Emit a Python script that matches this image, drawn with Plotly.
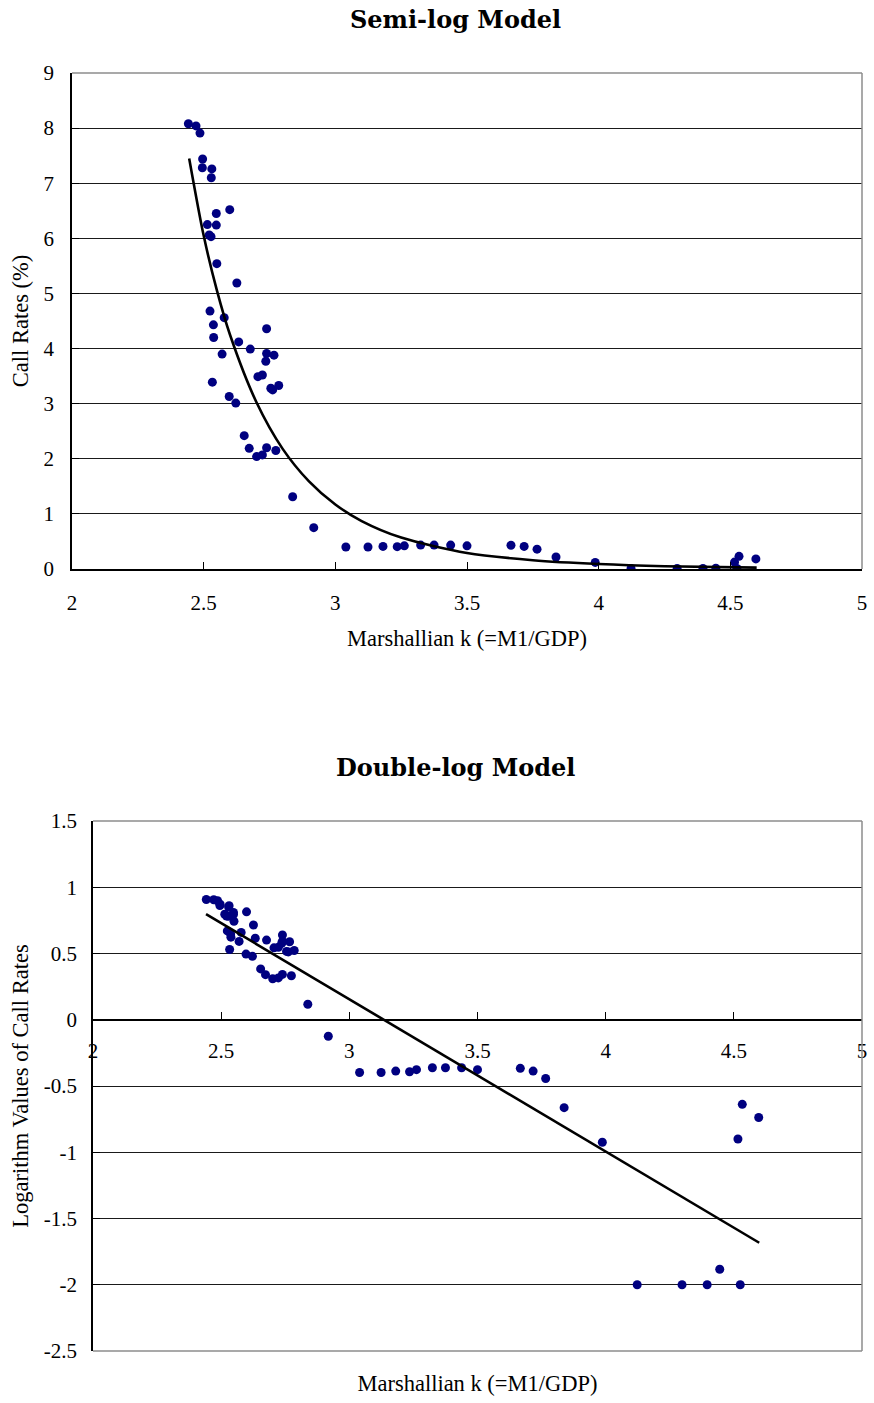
import numpy as np
import plotly.graph_objects as go

# ---------------- data ----------------
marshallian_k = [2.442, 2.471, 2.486, 2.496, 2.495, 2.531, 2.529, 2.599, 2.548, 2.514,
                 2.548, 2.521, 2.528, 2.550, 2.626, 2.524, 2.578, 2.537, 2.739, 2.538,
                 2.633, 2.677, 2.739, 2.767, 2.570, 2.736, 2.706, 2.723, 2.533, 2.755,
                 2.762, 2.785, 2.597, 2.622, 2.654, 2.673, 2.739, 2.774, 2.701, 2.723,
                 2.838, 2.918, 3.040, 3.124, 3.181, 3.235, 3.262, 3.324, 3.375, 3.438,
                 3.500, 3.667, 3.717, 3.766, 3.838, 3.987, 4.123, 4.298, 4.396, 4.445,
                 4.525, 4.516, 4.533, 4.597]
call_rates = [8.08, 8.04, 7.91, 7.44, 7.28, 7.26, 7.10, 6.52, 6.45, 6.25,
              6.24, 6.06, 6.03, 5.54, 5.19, 4.68, 4.56, 4.43, 4.36, 4.20,
              4.12, 3.99, 3.91, 3.88, 3.90, 3.77, 3.49, 3.52, 3.39, 3.28,
              3.25, 3.33, 3.13, 3.01, 2.42, 2.19, 2.20, 2.15, 2.04, 2.07,
              1.31, 0.75, 0.40, 0.40, 0.41, 0.405, 0.42, 0.434, 0.434, 0.434,
              0.42, 0.43, 0.41, 0.36, 0.217, 0.119, 0.01, 0.01, 0.01, 0.0131,
              0.01, 0.126, 0.23, 0.183]
log_call_rates = np.log10(call_rates)

# semi-log model curve
semilog_curve_k = [2.445, 2.5, 2.55, 2.6, 2.7, 2.8, 2.9, 3.0, 3.1, 3.25, 3.5, 3.75, 4.0, 4.25, 4.6]
semilog_curve_r = [7.45, 6.05, 5.06, 4.25, 3.03, 2.18, 1.59, 1.17, 0.87, 0.57, 0.29, 0.16, 0.09, 0.05, 0.025]

# double-log model fitted line (end points)
doublelog_line_k = [2.441, 4.599]
doublelog_line_v = [0.797, -1.683]

x_ticks = [2, 2.5, 3, 3.5, 4, 4.5, 5]
x_tick_text = ["2", "2.5", "3", "3.5", "4", "4.5", "5"]
top_y_ticks = [0, 1, 2, 3, 4, 5, 6, 7, 8, 9]
bot_y_ticks = [-2.5, -2, -1.5, -1, -0.5, 0, 0.5, 1, 1.5]
bot_y_tick_text = ["-2.5", "-2", "-1.5", "-1", "-0.5", "0", "0.5", "1", "1.5"]

# ---------------- layout geometry ----------------
W, H = 874, 1403
top_px = dict(l=72, r=862, t=73, b=569)
bot_px = dict(l=93, r=862, t=821, b=1351)

def xdom(p):
    return [p["l"] / W, p["r"] / W]

def ydom(p):
    return [1 - p["b"] / H, 1 - p["t"] / H]

bot_yrange = [-2.5, 1.5]
bd = ydom(bot_px)
zero_pos = bd[0] + (0 - bot_yrange[0]) / (bot_yrange[1] - bot_yrange[0]) * (bd[1] - bd[0])

NAVY = "#000080"
tick_font = dict(family="Liberation Serif, Times New Roman, serif", size=21, color="black")
title_font = dict(family="Liberation Serif, Times New Roman, serif", size=22.5, color="black")
head_font = dict(family="DejaVu Serif, serif", size=24, color="black")

fig = go.Figure()

# top chart
fig.add_trace(go.Scatter(x=marshallian_k, y=call_rates, mode="markers",
                         marker=dict(color=NAVY, size=9), xaxis="x", yaxis="y"))
fig.add_trace(go.Scatter(x=semilog_curve_k, y=semilog_curve_r, mode="lines",
                         line=dict(color="black", width=2.6, shape="spline", smoothing=0.8),
                         xaxis="x", yaxis="y"))

# bottom chart
fig.add_trace(go.Scatter(x=marshallian_k, y=log_call_rates, mode="markers",
                         marker=dict(color=NAVY, size=9), xaxis="x2", yaxis="y2"))
fig.add_trace(go.Scatter(x=doublelog_line_k, y=doublelog_line_v, mode="lines",
                         line=dict(color="black", width=2.6), xaxis="x2", yaxis="y2"))
# empty trace so the title-carrying overlay axis is drawn
fig.add_trace(go.Scatter(x=[], y=[], mode="markers", xaxis="x3", yaxis="y2",
                         hoverinfo="skip"))

fig.update_layout(
    width=W, height=H,
    autosize=False,
    margin=dict(l=0, r=0, t=0, b=0, pad=0, autoexpand=False),
    paper_bgcolor="white", plot_bgcolor="white",
    showlegend=False,
    xaxis=dict(domain=xdom(top_px), anchor="y", range=[2, 5], automargin=False,
               tickvals=x_ticks, ticktext=x_tick_text, ticks="inside", ticklen=7,
               tickcolor="black", showline=True, linecolor="black", linewidth=1.5,
               showgrid=False, zeroline=False, tickfont=tick_font, ticklabelstandoff=14,
               title=dict(text="Marshallian k (=M1/GDP)", font=title_font, standoff=16)),
    yaxis=dict(domain=ydom(top_px), anchor="x", range=[0, 9], automargin=False,
               tickvals=top_y_ticks, ticks="inside", ticklen=7, tickcolor="black",
               showline=True, linecolor="black", linewidth=1.5,
               showgrid=True, gridcolor="#1a1a1a", gridwidth=1, zeroline=False,
               tickfont=tick_font, ticklabelstandoff=12,
               title=dict(text="Call Rates (%)", font=title_font, standoff=9)),
    xaxis2=dict(domain=xdom(bot_px), anchor="free", position=zero_pos, range=[2, 5],
                automargin=False,
                tickvals=x_ticks, ticktext=x_tick_text, ticks="inside", ticklen=7,
                tickcolor="black", showline=True, linecolor="black", linewidth=1.5,
                showgrid=False, zeroline=False, tickfont=tick_font, ticklabelstandoff=12),
    xaxis3=dict(overlaying="x2", anchor="y2", side="bottom", range=[2, 5], automargin=False,
                showticklabels=False, ticks="", showline=False, showgrid=False, zeroline=False,
                title=dict(text="Marshallian k (=M1/GDP)", font=title_font, standoff=24)),
    yaxis2=dict(domain=ydom(bot_px), anchor="x2", range=bot_yrange, automargin=False,
                tickvals=bot_y_ticks, ticktext=bot_y_tick_text, ticks="inside", ticklen=7,
                tickcolor="black", showline=True, linecolor="black", linewidth=1.5,
                showgrid=True, gridcolor="#1a1a1a", gridwidth=1, zeroline=False,
                tickfont=tick_font, ticklabelstandoff=10,
                title=dict(text="Logarithm Values of Call Rates", font=title_font, standoff=9)),
    shapes=[
        # grey frame: top and right edges of both plots, bottom edge of the lower plot
        dict(type="line", xref="x domain", yref="y domain", x0=0, x1=1, y0=1, y1=1,
             line=dict(color="#8c8c8c", width=1.5), layer="above"),
        dict(type="line", xref="x domain", yref="y domain", x0=1, x1=1, y0=0, y1=1,
             line=dict(color="#8c8c8c", width=1.5), layer="above"),
        dict(type="line", xref="x2 domain", yref="y2 domain", x0=0, x1=1, y0=1, y1=1,
             line=dict(color="#8c8c8c", width=1.5), layer="above"),
        dict(type="line", xref="x2 domain", yref="y2 domain", x0=1, x1=1, y0=0, y1=1,
             line=dict(color="#8c8c8c", width=1.5), layer="above"),
        dict(type="line", xref="x2 domain", yref="y2 domain", x0=0, x1=1, y0=0, y1=0,
             line=dict(color="#8c8c8c", width=1.5), layer="above"),
    ],
    annotations=[
        dict(text="<b>Semi-log Model</b>", xref="paper", yref="paper",
             x=455 / W, y=1 - 20 / H, showarrow=False, font=head_font,
             xanchor="center", yanchor="middle"),
        dict(text="<b>Double-log Model</b>", xref="paper", yref="paper",
             x=455 / W, y=1 - 767 / H, showarrow=False, font=head_font,
             xanchor="center", yanchor="middle"),
    ],
)

fig.write_html("out.html", config={"displayModeBar": False},
               post_script="document.body.style.margin='0px';document.body.style.overflow='hidden';")
